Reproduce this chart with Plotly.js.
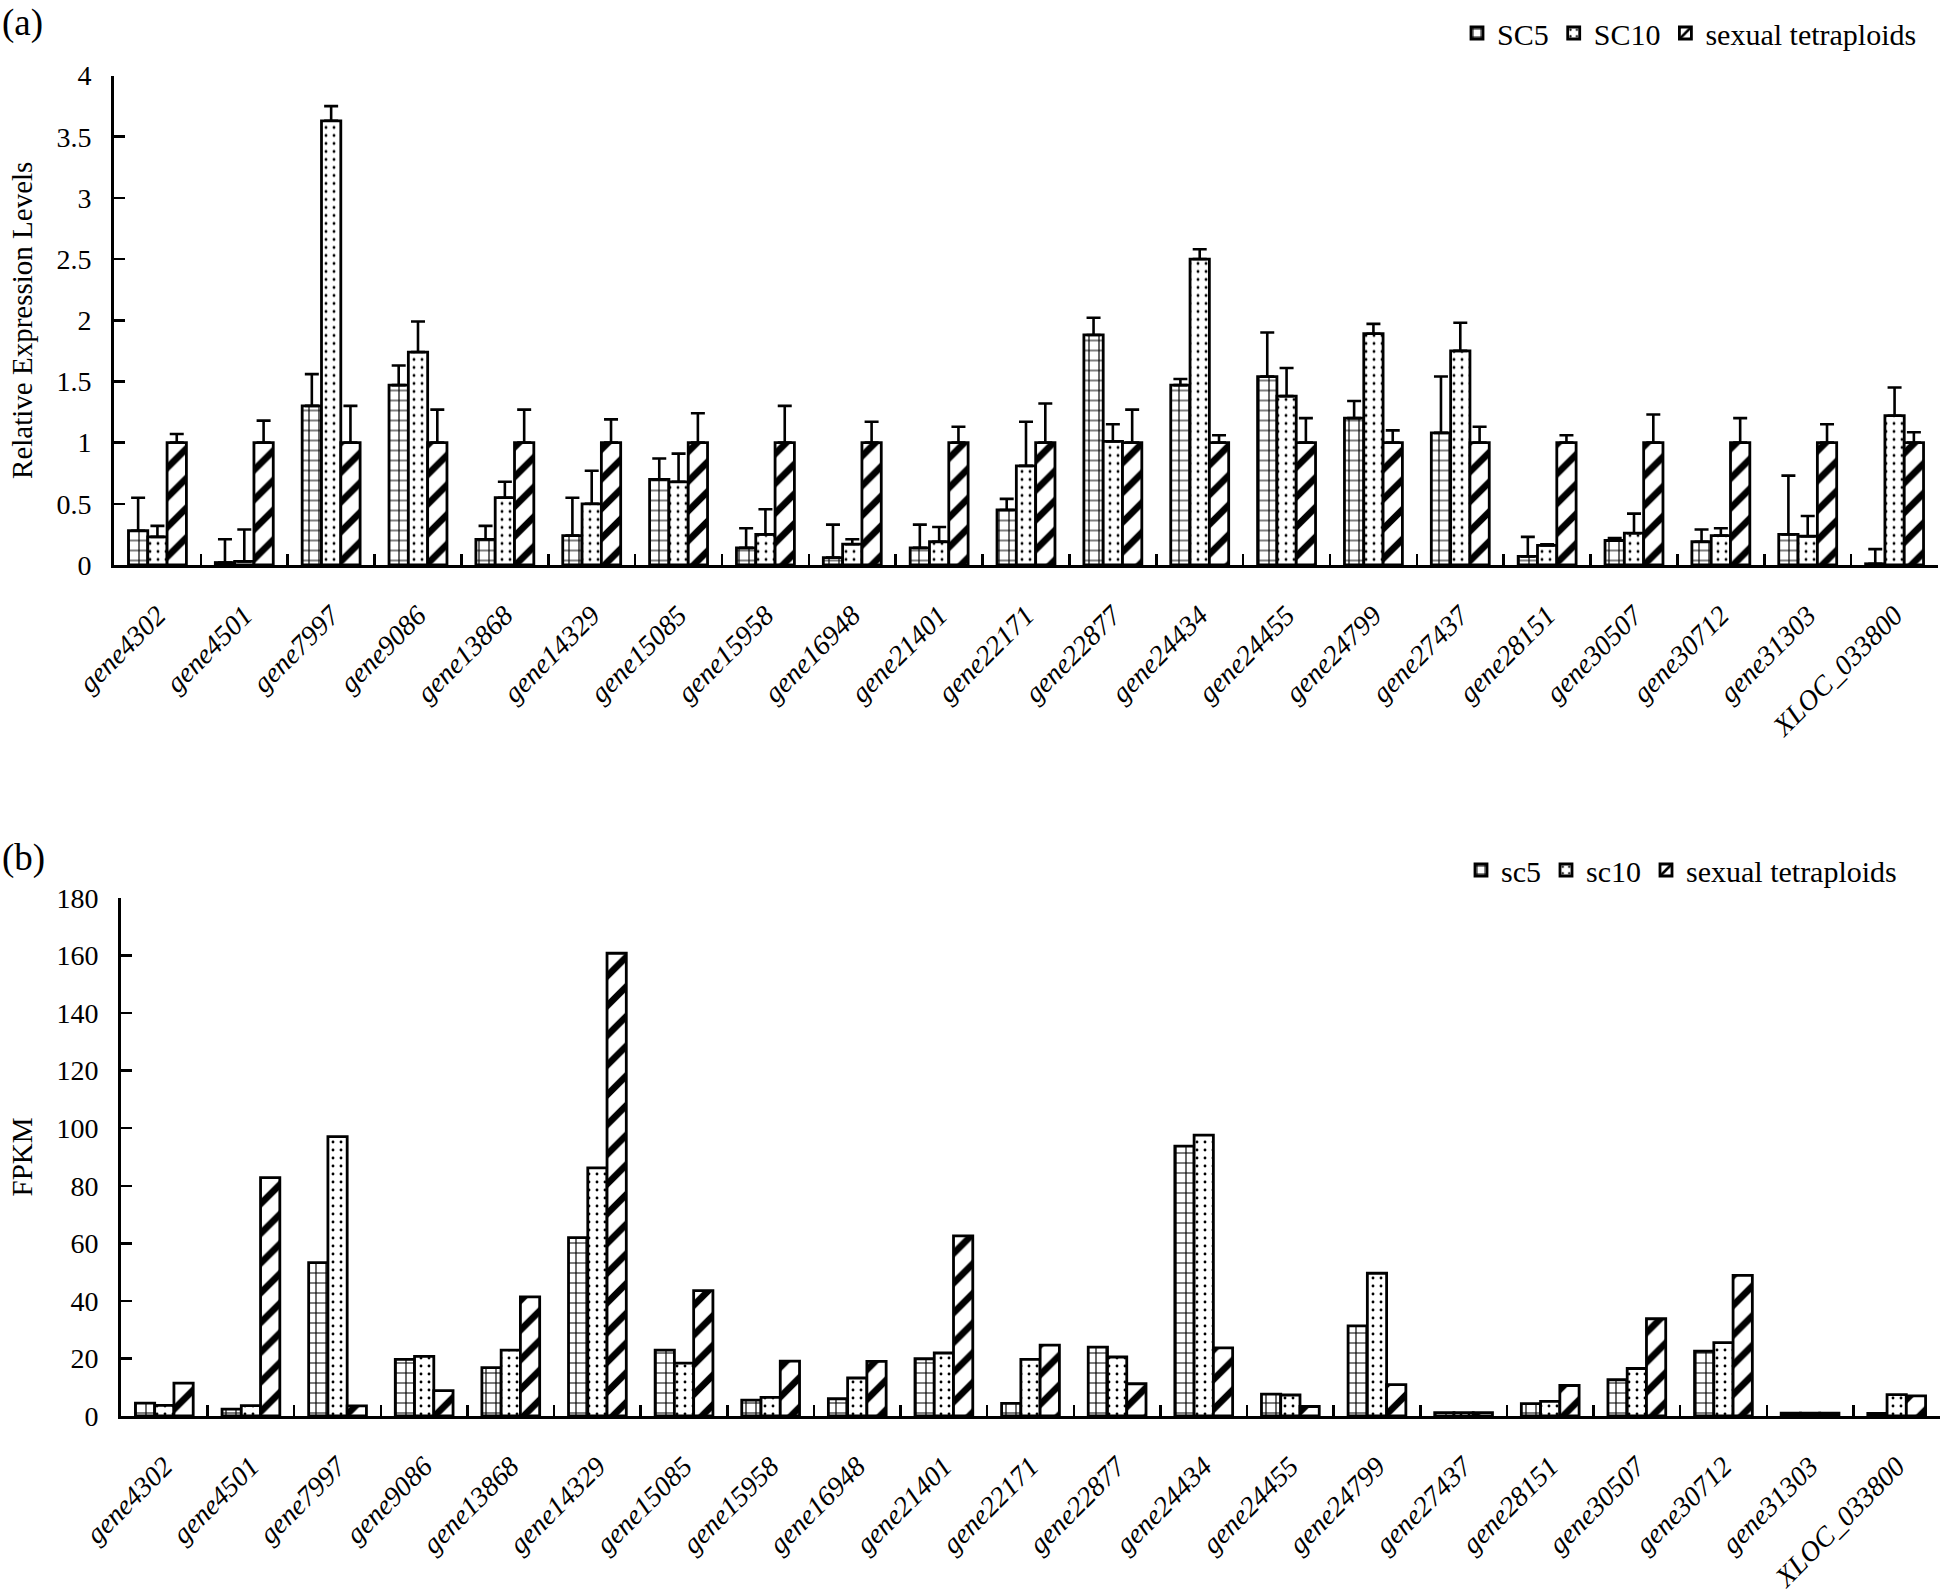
<!DOCTYPE html>
<html>
<head>
<meta charset="utf-8">
<script src="https://cdn.plot.ly/plotly-3.0.1.min.js"></script>
<style>
  html, body { margin: 0; padding: 0; background: #fff; }
  #chart { width: 1947px; height: 1594px; }
</style>
</head>
<body>
<div id="chart"></div>
<script>
// ---------- DATA ----------
const genes = ['gene4302','gene4501','gene7997','gene9086','gene13868','gene14329','gene15085',
  'gene15958','gene16948','gene21401','gene22171','gene22877','gene24434','gene24455',
  'gene24799','gene27437','gene28151','gene30507','gene30712','gene31303','XLOC_033800'];

// (a) relative expression levels (qRT-PCR) and their upper error bars
const relSC5   = [0.28,0.02,1.30,1.47,0.21,0.24,0.70,0.14,0.06,0.14,0.45,1.88,1.47,1.54,1.20,1.08,0.07,0.20,0.19,0.25,0.01];
const errSC5   = [0.27,0.19,0.26,0.16,0.11,0.31,0.17,0.16,0.27,0.19,0.09,0.14,0.05,0.36,0.14,0.46,0.16,0.02,0.10,0.48,0.12];
const relSC10  = [0.23,0.03,3.63,1.74,0.55,0.50,0.68,0.25,0.17,0.19,0.81,1.01,2.50,1.38,1.89,1.75,0.16,0.26,0.24,0.235,1.22];
const errSC10  = [0.09,0.26,0.12,0.25,0.13,0.27,0.23,0.205,0.04,0.12,0.36,0.14,0.08,0.23,0.08,0.23,0.01,0.16,0.06,0.165,0.23];
const relTetra = [1,1,1,1,1,1,1,1,1,1,1,1,1,1,1,1,1,1,1,1,1];
const errTetra = [0.07,0.18,0.30,0.27,0.27,0.19,0.24,0.30,0.17,0.13,0.32,0.27,0.06,0.20,0.10,0.13,0.06,0.23,0.20,0.15,0.085];

// (b) FPKM
const fpkmSC5   = [4.5,2.4,53.3,19.7,16.8,62.0,22.9,5.5,6.0,19.9,4.4,23.9,93.8,7.6,31.3,1.2,4.3,12.6,22.5,1.0,0.9];
const fpkmSC10  = [3.7,3.6,97.1,20.7,22.9,86.2,18.4,6.5,13.2,21.9,19.7,20.5,97.6,7.3,49.6,1.2,5.1,16.5,25.5,1.0,7.4];
const fpkmTetra = [11.4,82.8,3.5,8.8,41.4,160.8,43.6,19.1,19.0,62.6,24.6,11.2,23.7,3.3,10.9,1.2,10.6,33.8,48.9,1.0,7.0];

const namesA = ['SC5','SC10','sexual tetraploids'];
const namesB = ['sc5','sc10','sexual tetraploids'];

// ---------- STYLE ----------
const W = 1947, H = 1594;
const serif = 'Liberation Serif, Times New Roman, serif';
const patterns = [
  {shape: '+', size: 10, solidity: 0.22, fgcolor: '#000', bgcolor: '#fff', fillmode: 'replace'},
  {shape: '.', size: 8, solidity: 0.1, fgcolor: '#000', bgcolor: '#fff', fillmode: 'replace'},
  {shape: '/', size: 21, solidity: 0.32, fgcolor: '#000', bgcolor: '#fff', fillmode: 'replace'}
];

function bar(name, x, y, err, idx, xa, ya, legend) {
  const t = {
    type: 'bar', name: name, x: x, y: y, xaxis: xa, yaxis: ya, legend: legend,
    marker: { color: '#fff', line: {color: '#000', width: 2.8}, pattern: patterns[idx] },
    hoverinfo: 'skip'
  };
  if (err) {
    t.error_y = { type: 'data', symmetric: false, array: err,
                  arrayminus: err.map(() => 0), color: '#000', thickness: 2.6, width: 7 };
  }
  return t;
}

const data = [
  bar(namesA[0], genes, relSC5, errSC5, 0, 'x', 'y', 'legend'),
  bar(namesA[1], genes, relSC10, errSC10, 1, 'x', 'y', 'legend'),
  bar(namesA[2], genes, relTetra, errTetra, 2, 'x', 'y', 'legend'),
  bar(namesB[0], genes, fpkmSC5, null, 0, 'x2', 'y2', 'legend2'),
  bar(namesB[1], genes, fpkmSC10, null, 1, 'x2', 'y2', 'legend2'),
  bar(namesB[2], genes, fpkmTetra, null, 2, 'x2', 'y2', 'legend2')
];

const tickFont = {family: serif, size: 28, color: '#000'};
const geneFont = {family: serif, size: 28, color: '#000', style: 'italic'};

function xAxis(domain, anchor) {
  return {
    domain: domain, anchor: anchor, type: 'category',
    showline: true, linecolor: '#000', linewidth: 2.8,
    ticks: 'inside', tickson: 'boundaries', ticklen: 11, tickwidth: 2.5, tickcolor: '#000',
    tickangle: -45, tickfont: geneFont, ticklabelstandoff: 20,
    showgrid: false, zeroline: false, fixedrange: true
  };
}
function yAxis(domain, anchor, range, dtick, title) {
  return {
    domain: domain, anchor: anchor, range: range, dtick: dtick, tick0: 0,
    showline: true, linecolor: '#000', linewidth: 2.8,
    ticks: 'inside', ticklen: 11, tickwidth: 2.5, tickcolor: '#000',
    tickfont: tickFont, ticklabelstandoff: 14,
    showgrid: false, zeroline: false, fixedrange: true,
    title: {text: title, font: {family: serif, size: 29, color: '#000'}, standoff: 16}
  };
}

const layout = {
  width: W, height: H, autosize: false,
  margin: {l: 0, r: 0, t: 0, b: 0, pad: 0},
  paper_bgcolor: '#fff', plot_bgcolor: '#fff',
  barmode: 'group', bargap: 0.333, bargroupgap: 0,
  font: {family: serif, color: '#000'},
  xaxis: xAxis([114 / W, 1938 / W], 'y'),
  yaxis: yAxis([1 - 565 / H, 1 - 75.5 / H], 'x', [0, 4], 0.5, 'Relative Expression Levels'),
  xaxis2: xAxis([121 / W, 1940 / W], 'y2'),
  yaxis2: yAxis([1 - 1416 / H, 1 - 898 / H], 'x2', [0, 180], 20, 'FPKM'),
  legend: {
    orientation: 'h', x: 1922 / W, xanchor: 'right', y: 1 - 33 / H, yanchor: 'middle',
    font: {family: serif, size: 30, color: '#000'}, bgcolor: 'rgba(0,0,0,0)',
    itemwidth: 30, traceorder: 'normal'
  },
  legend2: {
    orientation: 'h', x: 1902 / W, xanchor: 'right', y: 1 - 870 / H, yanchor: 'middle',
    font: {family: serif, size: 30, color: '#000'}, bgcolor: 'rgba(0,0,0,0)',
    itemwidth: 30, traceorder: 'normal'
  },
  annotations: [
    {text: '(a)', xref: 'paper', yref: 'paper', x: 0, y: 1, xanchor: 'left', yanchor: 'top',
     showarrow: false, font: {family: serif, size: 37, color: '#000'}},
    {text: '(b)', xref: 'paper', yref: 'paper', x: 0, y: 1 - 835 / H, xanchor: 'left', yanchor: 'top',
     showarrow: false, font: {family: serif, size: 37, color: '#000'}}
  ]
};

Plotly.newPlot('chart', data, layout, {displayModeBar: false, staticPlot: true});
</script>
</body>
</html>
